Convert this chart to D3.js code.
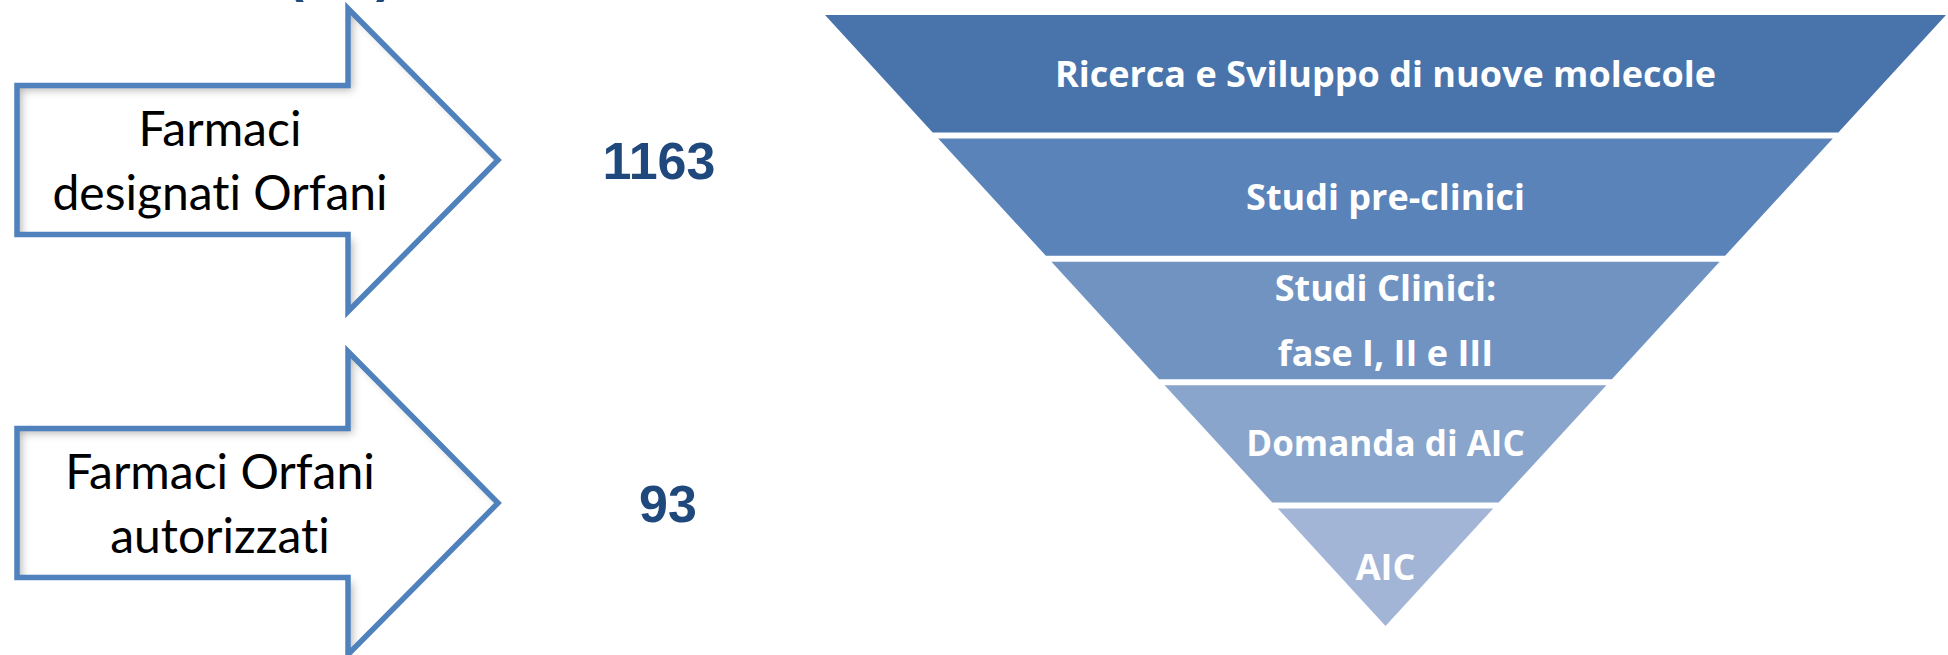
<!DOCTYPE html>
<html>
<head>
<meta charset="utf-8">
<script src="https://cdn.jsdelivr.net/npm/d3@7"></script>
<style>
  html, body { margin: 0; padding: 0; background: #fff; }
  svg { display: block; }
  text { font-variant-ligatures: none; }
</style>
</head>
<body>
<svg id="chart" width="1948" height="655"></svg>
<script>
// Orphan drug counts shown beside the arrows
const arrowLabels = [["Farmaci", "designati Orfani"], ["Farmaci Orfani", "autorizzati"]];
const counts = [1163, 93];

// Development pipeline stages, widest first
const stages = [
  ["Ricerca e Sviluppo di nuove molecole"],
  ["Studi pre-clinici"],
  ["Studi Clinici:", "fase I, II e III"],
  ["Domanda di AIC"],
  ["AIC"]
];

// Heading (only its lower edge falls inside the page)
const heading = "(UE)";

const stagePalette = ["#4874AB", "#5A83BA", "#7193C2", "#8AA5CC", "#A3B5D6"];
const svg = d3.select("#chart");

// ---------- inner shadow used by the arrow outlines ----------
const defs = svg.append("defs");
const f = defs.append("filter").attr("id", "innerShadow")
  .attr("x", "-10%").attr("y", "-10%").attr("width", "120%").attr("height", "120%");
f.append("feOffset").attr("in", "SourceAlpha").attr("dx", 5).attr("dy", 5).attr("result", "off");
f.append("feGaussianBlur").attr("in", "off").attr("stdDeviation", 4).attr("result", "blur");
f.append("feComposite").attr("operator", "out").attr("in", "SourceAlpha").attr("in2", "blur").attr("result", "inverse");
f.append("feFlood").attr("flood-color", "#000").attr("flood-opacity", 0.55).attr("result", "color");
f.append("feComposite").attr("operator", "in").attr("in", "color").attr("in2", "inverse").attr("result", "shadow");
const merge = f.append("feMerge");
merge.append("feMergeNode").attr("in", "SourceGraphic");
merge.append("feMergeNode").attr("in", "shadow");

// ---------- heading ----------
svg.append("text")
  .attr("x", 340).attr("y", -9)
  .attr("text-anchor", "middle")
  .attr("font-family", "Liberation Sans, Arial, sans-serif")
  .attr("font-weight", "bold")
  .attr("font-size", 52)
  .attr("fill", "#1F497D")
  .text(heading);

// ---------- arrows ----------
const rowY = d3.scalePoint().domain(d3.range(arrowLabels.length)).range([160, 503]);
const arrowGeom = { left: 17, neck: 348, tip: 498, body: 74.5, head: 151.5 };
const arrowPath = cy => {
  const p = d3.path();
  const g = arrowGeom;
  p.moveTo(g.left, cy - g.body);
  p.lineTo(g.neck, cy - g.body);
  p.lineTo(g.neck, cy - g.head);
  p.lineTo(g.tip, cy);
  p.lineTo(g.neck, cy + g.head);
  p.lineTo(g.neck, cy + g.body);
  p.lineTo(g.left, cy + g.body);
  p.closePath();
  return p.toString();
};

const rows = svg.append("g").selectAll("g")
  .data(arrowLabels.map((lab, i) => ({ lab, count: counts[i], i })))
  .join("g");

rows.append("path")
  .attr("d", d => arrowPath(rowY(d.i)))
  .attr("fill", "#fff")
  .attr("filter", "url(#innerShadow)");
rows.append("path")
  .attr("d", d => arrowPath(rowY(d.i)))
  .attr("fill", "none")
  .attr("stroke", "#4F81BD")
  .attr("stroke-width", 5.5)
  .attr("stroke-linejoin", "miter")
  .attr("stroke-miterlimit", 10);

rows.each(function (d) {
  const g = d3.select(this);
  const cy = rowY(d.i);
  g.selectAll("text.lab").data(d.lab).join("text")
    .attr("class", "lab")
    .attr("x", 220)
    .attr("y", (t, j) => cy - 14 + j * 63.5)
    .attr("text-anchor", "middle")
    .attr("font-family", "Lato, sans-serif")
    .attr("font-size", 48)
    .attr("fill", "#000")
    .text(t => t);
});

const numberX = [659, 668];
rows.append("text")
  .attr("x", d => numberX[d.i])
  .attr("y", d => rowY(d.i) + 19)
  .attr("text-anchor", "middle")
  .attr("font-family", "Liberation Sans, Arial, sans-serif")
  .attr("font-weight", "bold")
  .attr("font-size", 52)
  .attr("fill", "#1F497D")
  .text(d => d.count);

// ---------- funnel ----------
const funnelTop = 15, funnelApex = 626, funnelCx = 1385.5, funnelHalf = 560.5;
const bandY = d3.scaleBand().domain(d3.range(stages.length))
  .range([funnelTop, funnelApex]).paddingInner(0.0486).paddingOuter(0);
const halfW = d3.scaleLinear().domain([funnelTop, funnelApex]).range([funnelHalf, 0]);
const color = d3.scaleOrdinal().domain(d3.range(stages.length)).range(stagePalette);

const bands = svg.append("g").selectAll("g")
  .data(stages.map((lines, i) => ({ lines, i })))
  .join("g");

bands.append("path")
  .attr("d", d => {
    const y0 = bandY(d.i), y1 = y0 + bandY.bandwidth();
    const p = d3.path();
    p.moveTo(funnelCx - halfW(y0), y0);
    p.lineTo(funnelCx + halfW(y0), y0);
    p.lineTo(funnelCx + halfW(y1), y1);
    p.lineTo(funnelCx - halfW(y1), y1);
    p.closePath();
    return p.toString();
  })
  .attr("fill", d => color(d.i));

const stageFont = [36, 36, 36, 35, 36];
const lineGap = 65;
bands.each(function (d) {
  const g = d3.select(this);
  const cy = bandY(d.i) + bandY.bandwidth() / 2;
  const n = d.lines.length;
  const fs = stageFont[d.i];
  g.selectAll("text").data(d.lines).join("text")
    .attr("x", funnelCx)
    .attr("y", (t, j) => cy + (j - (n - 1) / 2) * lineGap + fs * 0.357)
    .attr("text-anchor", "middle")
    .attr("font-family", "Open Sans, sans-serif")
    .attr("font-weight", "bold")
    .attr("font-size", fs)
    .attr("fill", "#fff")
    .text(t => t);
});
</script>
</body>
</html>
